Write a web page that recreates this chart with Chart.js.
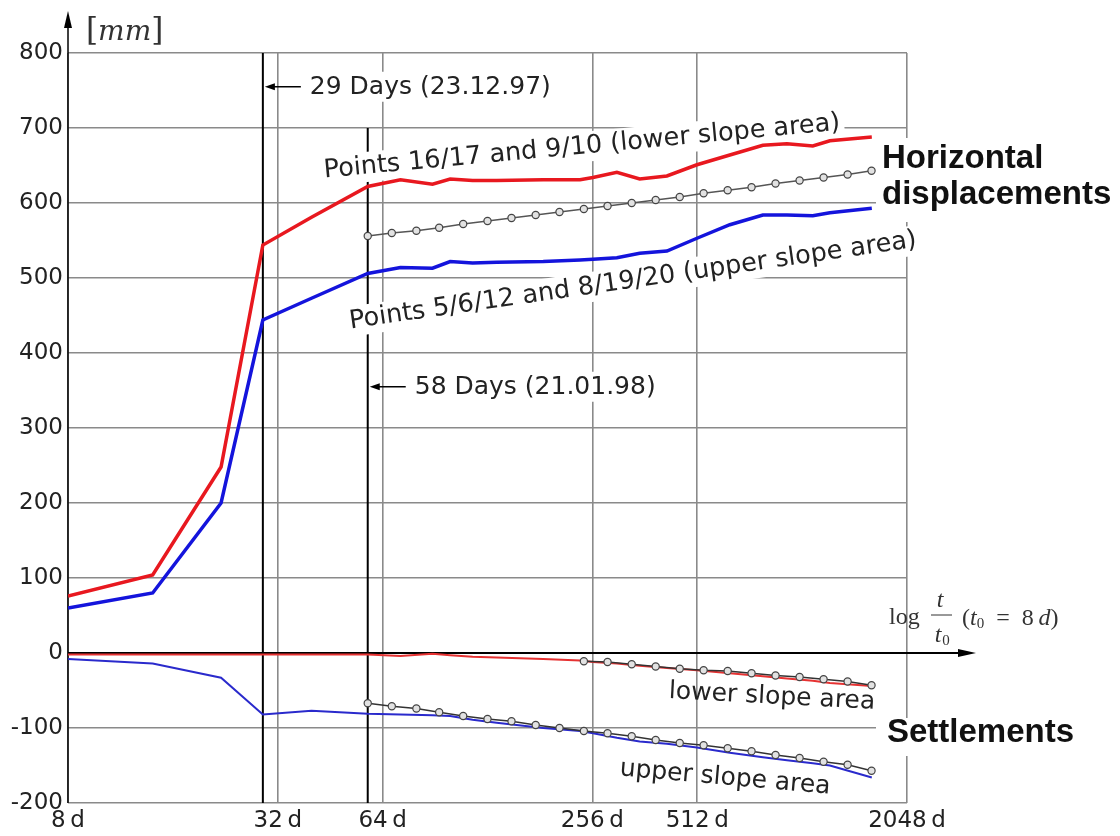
<!DOCTYPE html>
<html>
<head>
<meta charset="utf-8">
<title>Horizontal displacements and settlements</title>
<script src="https://cdn.jsdelivr.net/npm/chart.js@4/dist/chart.umd.min.js"></script>
<style>
  html, body { margin: 0; padding: 0; background: #fff; }
  #wrap { width: 1120px; height: 836px; }
</style>
</head>
<body>
<div id="wrap"><canvas id="myChart" width="1120" height="836"></canvas></div>
<script>
"use strict";

// measuring dates, days after start (t0 = 8 d)
const days = [8, 14, 22, 29, 40, 58, 72, 89, 100, 116, 136, 185, 236, 257, 301, 350, 419, 511, 635, 790, 926, 1099, 1230, 1623];

// horizontal displacements [mm]
const redHoriz  = [76, 104, 248, 544, 581, 622, 631, 625, 632, 630, 630, 631, 631, 634, 641, 632, 636, 651, 664, 677, 679, 676, 683, 688];
const blueHoriz = [60, 80, 200, 444, 473, 506, 514, 513, 522, 520, 521, 522, 524, 525, 527, 533, 536, 553, 571, 584, 584, 583, 587, 593];

// settlements [mm]
const redSettle  = [-2, -2, -2, -2, -2, -2, -4, -1, -3, -5, -6, -8, -10, -12, -14, -17, -20, -23, -27, -31, -34, -37, -40, -44];
const blueSettle = [-8, -14, -33, -82, -77, -81, -82, -83, -84, -89, -93, -100, -104, -107, -113, -118, -121, -126, -133, -139, -143, -147, -150, -166];

// trend lines (circles)
const trendDays = [58, 68, 80, 93, 109, 128, 150, 176, 206, 242, 283, 332, 389, 456, 534, 626, 733, 859, 1007, 1180, 1383, 1620];
const trendHoriz = [556, 560, 563, 567, 572, 576, 580, 584, 588, 592, 596, 600, 604, 608, 613, 617, 621, 626, 630, 634, 638, 643];
const trendLowerSettle = [null, null, null, null, null, null, null, null, null, -11, -12, -15, -18, -21, -23, -24, -27, -30, -32, -35, -38, -43];
const trendUpperSettle = [-67, -71, -74, -79, -84, -88, -91, -96, -100, -104, -107, -111, -116, -120, -123, -127, -131, -136, -140, -145, -149, -157];

const xTickDays = [8, 32, 64, 256, 512, 2048];
const yTicks = [-200, -100, 0, 100, 200, 300, 400, 500, 600, 700, 800];

const gridColor = "#8a8a8a";
const textColor = "#222";
const sans = "DejaVu Sans";
const serif = "Liberation Serif";

function toPoints(xs, ys) {
    const pts = [];
    for (let i = 0; i < xs.length; i++) {
        if (ys[i] !== null) pts.push({ x: xs[i], y: ys[i] });
    }
    return pts;
}

function line(c, x1, y1, x2, y2) {
    c.beginPath();
    c.moveTo(x1, y1);
    c.lineTo(x2, y2);
    c.stroke();
}

// text with a white box behind it, optionally rotated
function boxText(c, text, x, y, angle, font, bg) {
    c.save();
    c.translate(x, y);
    c.rotate(angle * Math.PI / 180);
    c.font = font;
    c.textBaseline = "middle";
    c.textAlign = "center";
    const w = c.measureText(text).width;
    if (bg) {
        c.fillStyle = "#fff";
        c.fillRect(-w / 2 - 4, -15, w + 8, 30);
    }
    c.fillStyle = textColor;
    c.fillText(text, 0, 0);
    c.restore();
}

// write several font runs one after the other
function runs(c, x, y, parts) {
    for (const p of parts) {
        c.font = p.font;
        c.fillText(p.t, x, y + (p.dy || 0));
        x += c.measureText(p.t).width;
    }
    return x;
}

const overlay = {
    id: "overlay",
    beforeDatasetsDraw(chart) {
        const c = chart.ctx;
        const xs = chart.scales.x;
        const ys = chart.scales.y;
        const a = chart.chartArea;
        c.save();

        // black marker lines at 29 and 58 days
        c.strokeStyle = "#000";
        c.lineWidth = 2;
        const x29 = xs.getPixelForValue(29);
        const x58 = xs.getPixelForValue(58);
        line(c, x29, a.top, x29, a.bottom);
        line(c, x58, ys.getPixelForValue(700), x58, a.bottom);

        // time axis through zero, with arrow
        const y0 = ys.getPixelForValue(0);
        c.lineWidth = 2;
        line(c, a.left, y0, 962, y0);
        c.fillStyle = "#000";
        c.beginPath();
        c.moveTo(976, y0); c.lineTo(958, y0 - 4); c.lineTo(958, y0 + 4); c.closePath();
        c.fill();

        // y axis arrow above the plot
        c.lineWidth = 1.5;
        line(c, a.left, a.bottom, a.left, 24);
        c.beginPath();
        c.moveTo(a.left, 11); c.lineTo(a.left - 4, 28); c.lineTo(a.left + 4, 28); c.closePath();
        c.fill();

        // date annotations with small arrows
        const notes = [
            { x: x29, y: ys.getPixelForValue(755), text: "29 Days (23.12.97)" },
            { x: x58, y: ys.getPixelForValue(355), text: "58 Days (21.01.98)" },
        ];
        for (const n of notes) {
            c.font = "25px '" + sans + "'";
            const w = c.measureText(n.text).width;
            c.fillStyle = "#fff";
            c.fillRect(n.x + 42, n.y - 15, w + 8, 30);
            c.strokeStyle = "#000";
            c.lineWidth = 1.5;
            line(c, n.x + 8, n.y, n.x + 38, n.y);
            c.fillStyle = "#000";
            c.beginPath();
            c.moveTo(n.x + 2, n.y); c.lineTo(n.x + 12, n.y - 3.5); c.lineTo(n.x + 12, n.y + 3.5); c.closePath();
            c.fill();
            c.fillStyle = textColor;
            c.textBaseline = "middle";
            c.textAlign = "left";
            c.fillText(n.text, n.x + 47, n.y + 1);
        }

        // curve labels
        boxText(c, "Points 16/17 and 9/10 (lower slope area)", 582, 147, -5.3, "25.5px '" + sans + "'", true);
        boxText(c, "Points 5/6/12 and 8/19/20 (upper slope area)", 633, 281, -8.2, "25.5px '" + sans + "'", true);
        boxText(c, "lower slope area", 772, 697, 3, "25px '" + sans + "'", false);
        boxText(c, "upper slope area", 725, 778, 5, "25px '" + sans + "'", false);

        // group labels on the right
        c.font = "bold 33px 'Liberation Sans'";
        c.textAlign = "left";
        c.textBaseline = "alphabetic";
        c.fillStyle = "#fff";
        c.fillRect(876, 138, 244, 84);
        c.fillRect(876, 718, 210, 38);
        c.fillStyle = "#111";
        c.fillText("Horizontal", 882, 168);
        c.fillText("displacements", 882, 204);
        c.fillText("Settlements", 887, 742);

        // axis names
        c.fillStyle = "#333";
        runs(c, 86, 40, [
            { t: "[", font: "31px 'DejaVu Serif'" },
            { t: "mm", font: "italic 28px 'DejaVu Serif'" },
            { t: "]", font: "31px 'DejaVu Serif'" },
        ]);

        c.font = "24px '" + serif + "'";
        c.fillText("log", 889, 624);
        c.textAlign = "center";
        c.font = "italic 24px '" + serif + "'";
        c.fillText("t", 940, 607);
        c.fillText("t", 938, 642);
        c.font = "15px '" + serif + "'";
        c.fillText("0", 946, 645);
        c.strokeStyle = "#333";
        c.lineWidth = 1;
        line(c, 931, 615, 952, 615);
        c.textAlign = "left";
        runs(c, 962, 625, [
            { t: "(", font: "24px '" + serif + "'" },
            { t: "t", font: "italic 24px '" + serif + "'" },
            { t: "0", font: "15px '" + serif + "'", dy: 3 },
            { t: "\u2002=\u20028\u2009", font: "24px '" + serif + "'" },
            { t: "d", font: "italic 24px '" + serif + "'" },
            { t: ")", font: "24px '" + serif + "'" },
        ]);

        c.restore();
    },
};

const measured = { tension: 0, pointRadius: 0, order: 1 };
const trend = {
    tension: 0,
    pointRadius: 3.6,
    pointBackgroundColor: "#e2e2e2",
    pointBorderColor: "#444",
    pointBorderWidth: 1.2,
    borderWidth: 1.4,
    order: 0,
};

const chartData = {
    datasets: [
        { ...measured, label: "Points 16/17 and 9/10", data: toPoints(days, redHoriz), borderColor: "#e8181f", borderWidth: 3.5 },
        { ...measured, label: "Points 5/6/12 and 8/19/20", data: toPoints(days, blueHoriz), borderColor: "#1414dc", borderWidth: 3.5 },
        { ...measured, label: "lower slope area", data: toPoints(days, redSettle), borderColor: "#e63232", borderWidth: 2 },
        { ...measured, label: "upper slope area", data: toPoints(days, blueSettle), borderColor: "#2a2acc", borderWidth: 2 },
        { ...trend, label: "trend horizontal", data: toPoints(trendDays, trendHoriz), borderColor: "#555" },
        { ...trend, label: "trend lower", data: toPoints(trendDays, trendLowerSettle), borderColor: "#333" },
        { ...trend, label: "trend upper", data: toPoints(trendDays, trendUpperSettle), borderColor: "#333" },
    ],
};

const config = {
    type: "line",
    data: chartData,
    options: {
        responsive: false,
        animation: false,
        layout: { padding: { left: 0, right: 213, top: 53, bottom: 0 } },
        plugins: {
            legend: { display: false },
            tooltip: { enabled: false },
        },
        scales: {
            x: {
                type: "logarithmic",
                min: 8,
                max: 2048,
                afterBuildTicks: (axis) => { axis.ticks = xTickDays.map(v => ({ value: v })); },
                afterFit: (axis) => { axis.height = 33; },
                grid: { color: gridColor, lineWidth: 1.6, drawTicks: false },
                border: { display: false },
                ticks: {
                    autoSkip: false,
                    maxRotation: 0,
                    padding: 4,
                    color: textColor,
                    font: { family: sans, size: 23 },
                    callback: (v) => v + "\u2009d",
                },
            },
            y: {
                min: -200,
                max: 800,
                afterBuildTicks: (axis) => { axis.ticks = yTicks.map(v => ({ value: v })); },
                afterFit: (axis) => { axis.width = 68; },
                grid: { color: gridColor, lineWidth: 1.6, drawTicks: false },
                border: { display: false },
                ticks: {
                    padding: 5,
                    color: textColor,
                    font: { family: sans, size: 23 },
                    callback: (v) => String(v),
                },
            },
        },
    },
    plugins: [overlay],
};

const ctx = document.getElementById("myChart").getContext("2d");
new Chart(ctx, config);
</script>
</body>
</html>
